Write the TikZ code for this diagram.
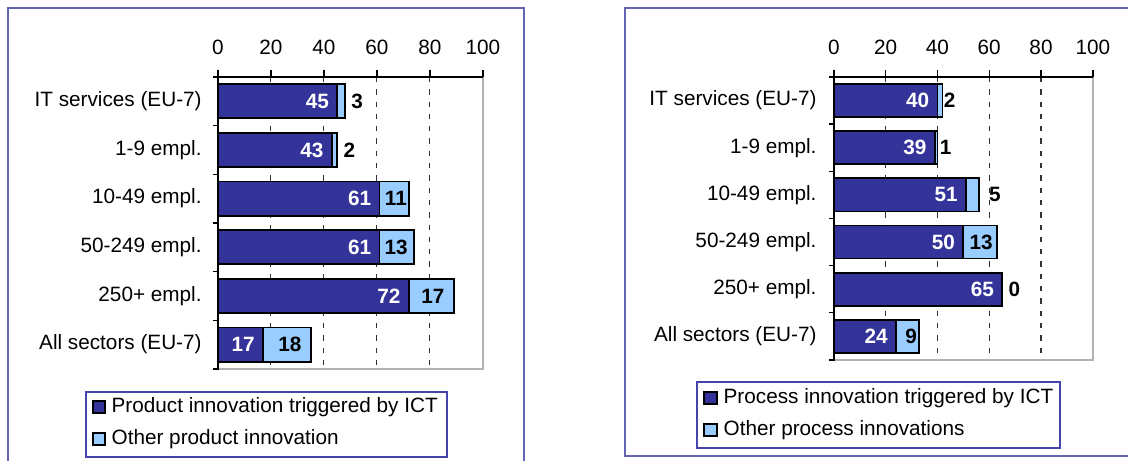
\documentclass[tikz,border=0pt]{standalone}
\usepackage{fontspec}
\setmainfont{Liberation Sans}
\usetikzlibrary{positioning,calc}
\newcommand{\chartfont}{\fontsize{11.8}{14}\selectfont}
\definecolor{ictblue}{HTML}{333399}
\definecolor{otherblue}{HTML}{99CCFF}
\definecolor{framecol}{HTML}{6464B4}
\definecolor{legcol}{HTML}{4444AA}
\tikzset{
	ictbar/.style={draw=black, line width=1pt, fill=ictblue},
	otherbar/.style={draw=black, line width=1pt, fill=otherblue},
	gridline/.style={black!80, line width=0.6pt, dash pattern=on 3pt off 4pt},
	valin/.style={font=\chartfont\bfseries, text=white, anchor=east, inner sep=0pt},
	valout/.style={font=\chartfont\bfseries, inner sep=0pt},
	catlabel/.style={anchor=east, inner sep=0pt},
	legkey/.style={draw=black, line width=1.2pt, minimum size=0.25cm, inner sep=0pt},
	legtext/.style={inner sep=0pt},
}

\begin{document}
\begin{tikzpicture}[x=0.02cm, y=-0.02cm, font=\chartfont]
	\useasboundingbox (0,0) rectangle (1128,460);
	\draw[framecol, line width=1.2pt] (8,470) -- (8,8) -- (524,8) -- (524,470);
	\draw[framecol, line width=1.2pt] (1140,456) -- (625,456) -- (625,8) -- (1140,8);
	
	% product innovation
	\begin{scope}[xshift=4.36cm, yshift=-1.54cm, x=0.053cm, y=-0.9733cm]
		\foreach \v in {20,40,60,80}
			\draw[gridline] (\v,0) -- (\v,6);
		\draw[gray!60, line width=1.5pt] (0,6) -| (100,0);
		\draw[line width=0.8pt] (0,6.03) -- (0,0) -- (100,0);
		\foreach \i in {0,...,6}
			\draw[line width=0.8pt] (0,\i) -- ++(-2,0);
		\foreach \v in {0,20,...,100} {
			\draw[line width=0.8pt] (\v,0) -- ++(0,-0.14);
			\node (ltick\v) at ([yshift=0.6cm]\v,0) {\v};
		}
		\foreach \lab/\a/\b/\anc/\dx [count=\i] in {
				IT services (EU-7)/45/3/west/0.12,
				1-9 empl./43/2/west/0.12,
				10-49 empl./61/11/east/-0.03,
				50-249 empl./61/13/east/-0.12,
				250+ empl./72/17/east/-0.18,
				All sectors (EU-7)/17/18/east/-0.18} {
			\node[catlabel] (lcat\i) at ([xshift=-0.32cm]0,\i-0.5) {\lab};
			\draw[ictbar] (0,\i-0.85) rectangle (\a,\i-0.15);
			\draw[otherbar] (\a,\i-0.85) rectangle (\a+\b,\i-0.15);
			\node[valin] (lict\i) at ([xshift=-0.16cm]\a,\i-0.5) {\a};
			\node[valout, anchor=\anc] (loth\i) at ([xshift=\dx cm]\a+\b,\i-0.5) {\b};
		}
	\end{scope}
	
	\draw[legcol, line width=0.8pt] (86,392) rectangle (447,457);
	\node[legkey, fill=ictblue] (lkey1) at (99,407) {};
	\node[legtext, right=0.1cm of lkey1] (lleg1) {Product innovation triggered by ICT};
	\node[legkey, fill=otherblue] (lkey2) at (99,439) {};
	\node[legtext, right=0.1cm of lkey2] (lleg2) {Other product innovation};
	
	% process innovation
	\begin{scope}[xshift=16.68cm, yshift=-1.54cm, x=0.0518cm, y=-0.9433cm]
		\foreach \v in {20,40,60,80}
			\draw[gridline] (\v,0) -- (\v,6);
		\draw[gray!60, line width=1.5pt] (0,6) -| (100,0);
		\draw[line width=0.8pt] (0,6.03) -- (0,0) -- (100,0);
		\foreach \i in {0,...,6}
			\draw[line width=0.8pt] (0,\i) -- ++(-2,0);
		\foreach \v in {0,20,...,100} {
			\draw[line width=0.8pt] (\v,0) -- ++(0,-0.15);
			\node (rtick\v) at ([yshift=0.6cm]\v,0) {\v};
		}
		\foreach \lab/\a/\b/\anc/\dx [count=\i] in {
				IT services (EU-7)/40/2/west/0.02,
				1-9 empl./39/1/west/0.04,
				10-49 empl./51/5/west/0.2,
				50-249 empl./50/13/east/-0.08,
				250+ empl./65/0/west/0.12,
				All sectors (EU-7)/24/9/east/-0.04} {
			\node[catlabel] (rcat\i) at ([xshift=-0.34cm]0,\i-0.5) {\lab};
			\draw[ictbar] (0,\i-0.85) rectangle (\a,\i-0.15);
			\draw[otherbar] (\a,\i-0.85) rectangle (\a+\b,\i-0.15);
			\node[valin] (rict\i) at ([xshift=-0.16cm]\a,\i-0.5) {\a};
			\node[valout, anchor=\anc] (roth\i) at ([xshift=\dx cm]\a+\b,\i-0.5) {\b};
		}
	\end{scope}
	
	\draw[legcol, line width=0.8pt] (697,382) rectangle (1060,448);
	\node[legkey, fill=ictblue] (rkey1) at (710.5,398) {};
	\node[legtext, right=0.11cm of rkey1] (rleg1) {Process innovation triggered by ICT};
	\node[legkey, fill=otherblue] (rkey2) at (710.5,430) {};
	\node[legtext, right=0.11cm of rkey2] (rleg2) {Other process innovations};
\end{tikzpicture}
\end{document}
